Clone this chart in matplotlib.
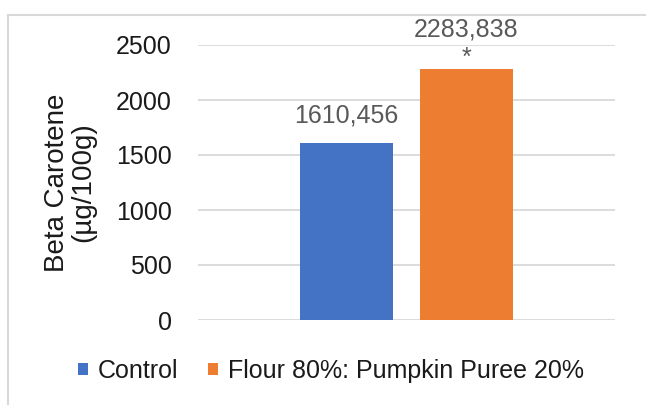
import matplotlib.pyplot as plt
from matplotlib.patches import Rectangle

plt.rcParams['font.family'] = ['Liberation Sans', 'DejaVu Sans']

# data
series = ['Control', 'Flour 80%: Pumpkin Puree 20%']
values = [1610.456, 2283.838]
labels = ['1610,456', '2283,838']
marks = ['', '*']
colors = ['#4472C4', '#ED7D31']
yticks = [0, 500, 1000, 1500, 2000, 2500]

W, H = 646, 405
fig = plt.figure(figsize=(W / 100, H / 100), dpi=100)

# light outer frame of the exported chart (runs off the right and bottom edge)
fig.patches.append(Rectangle((8 / W, -0.1), 1.2, 1.1 - 15 / H, transform=fig.transFigure,
                             fill=False, edgecolor='#d9d9d9', linewidth=1.5))

ax = fig.add_axes([198 / W, 1 - 320 / H, (615 - 198) / W, (320 - 45) / H])

width = 0.223
offsets = [-0.144, 0.144]
for name, v, lab, mk, c, dx in zip(series, values, labels, marks, colors, offsets):
    ax.bar(dx, v, width=width, color=c, label=name, zorder=3)
    # significance star sits between the bar and its value label
    if mk:
        ax.annotate(mk, (dx, v), xytext=(0, 8), textcoords='offset points',
                    ha='center', va='center', fontsize=18, color='#595959')
    ax.annotate(lab, (dx, v), xytext=(0, 28 if mk else 20), textcoords='offset points',
                ha='center', va='center', fontsize=18, color='#595959')

ax.set_xlim(-0.5, 0.5)
ax.set_ylim(0, 2500)
ax.set_yticks(yticks)
ax.set_xticks([])
ax.yaxis.grid(True, color='#d9d9d9', linewidth=1.3, zorder=0)
ax.tick_params(axis='y', length=0, pad=19, labelsize=18, labelcolor='#1a1a1a')
for s in ax.spines.values():
    s.set_visible(False)

ax.set_ylabel('Beta Carotene\n(µg/100g)', fontsize=20, color='#1a1a1a', labelpad=14,
              linespacing=1.0)

fig.legend(loc='center', bbox_to_anchor=(331 / W, 1 - 371 / H), ncol=2, frameon=False,
           fontsize=18, handlelength=0.4, handleheight=0.4, handletextpad=0.4,
           columnspacing=1.2, labelcolor='#1a1a1a')

fig.savefig('out.png', dpi=100)
